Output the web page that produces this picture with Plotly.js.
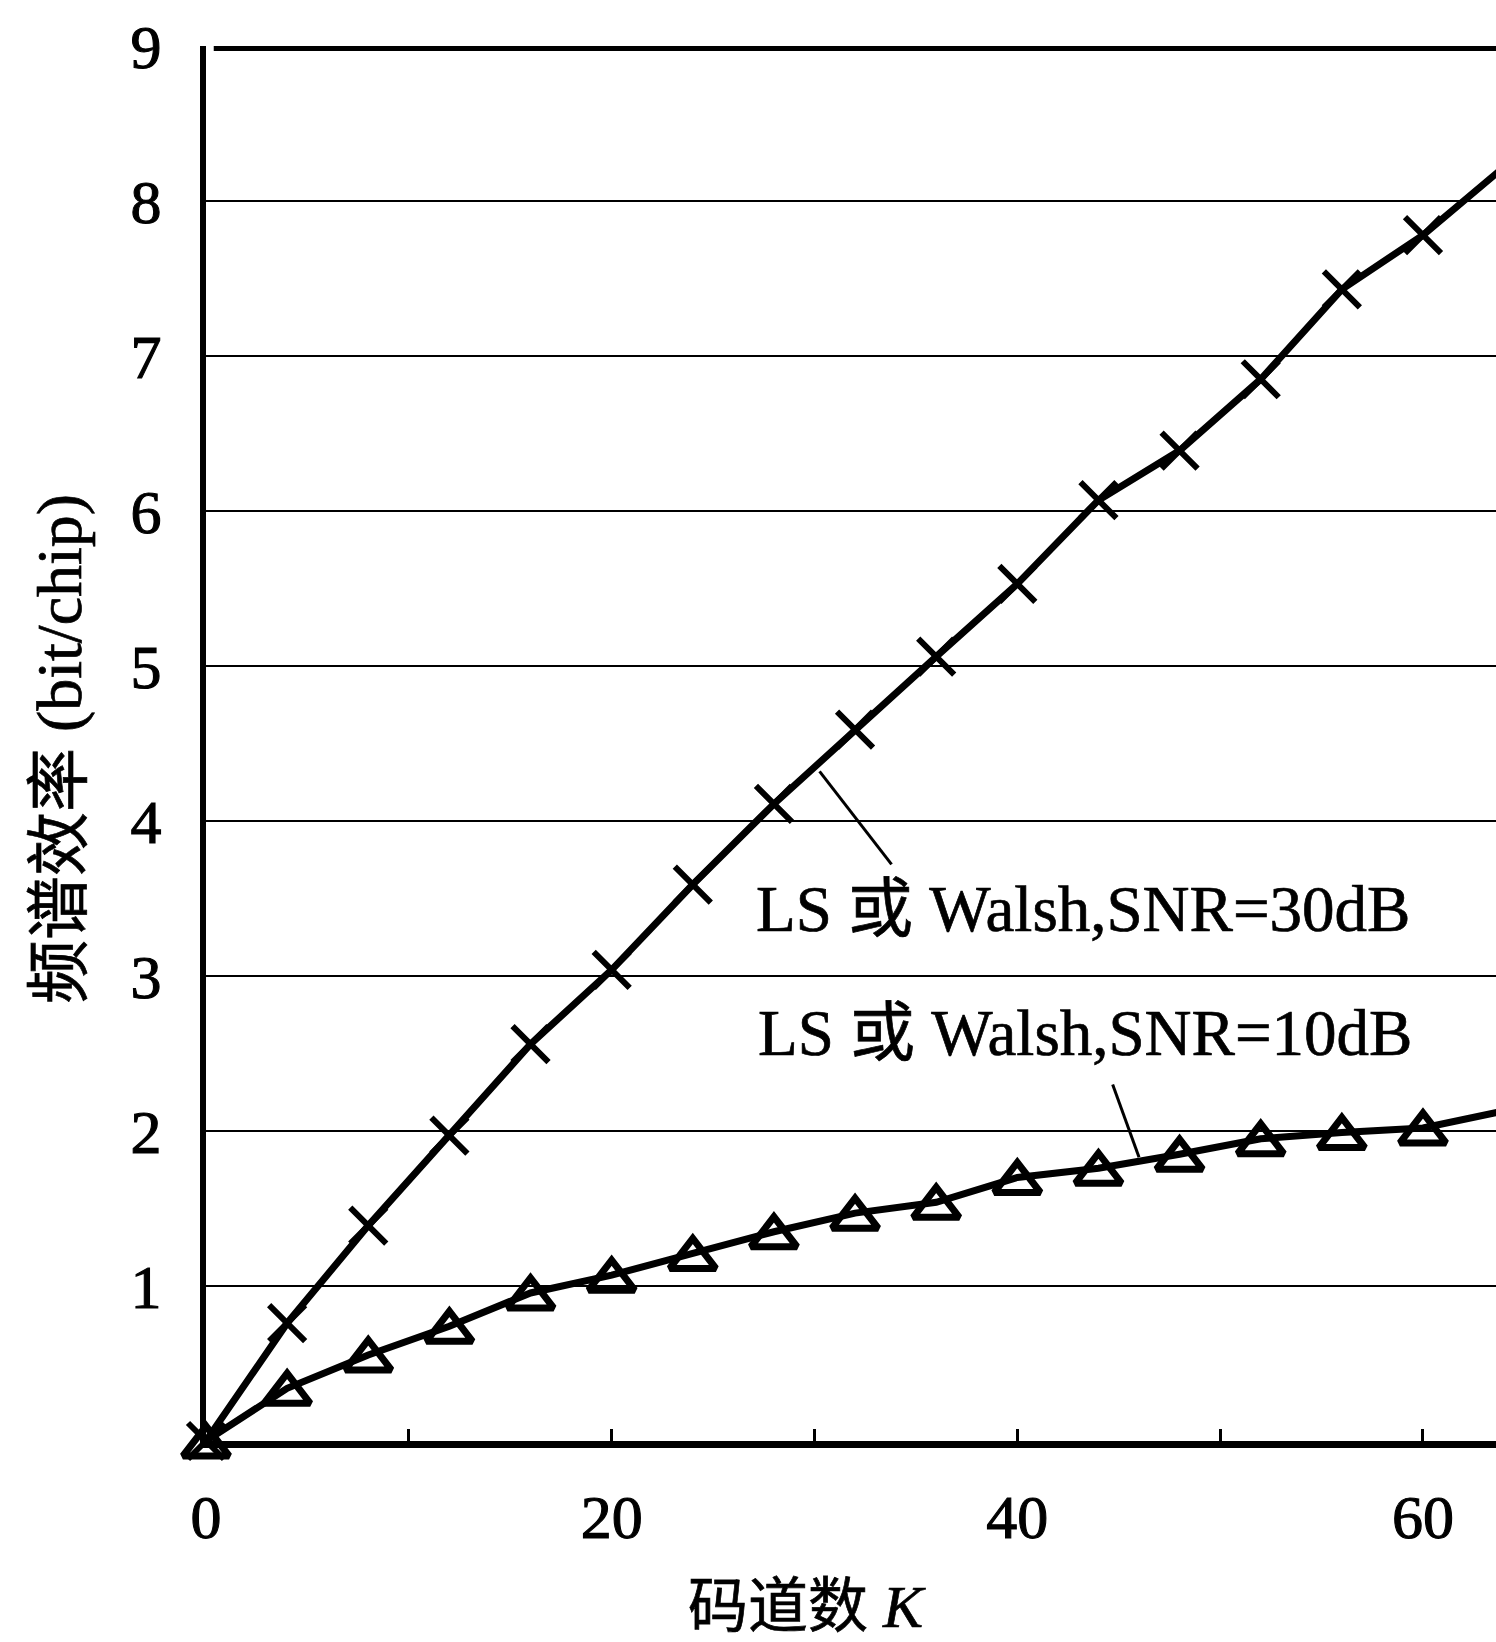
<!DOCTYPE html>
<html>
<head>
<meta charset="utf-8">
<script src="https://cdn.plot.ly/plotly-3.0.1.min.js"></script>
<style>
  html, body { margin: 0; padding: 0; background: #ffffff; }
  #chart { width: 1496px; height: 1642px; }
  #chart .xtick text, #chart .ytick text { stroke: #000000; stroke-width: 1.1px; }
  #chart .annotation-text { stroke: #000000; stroke-width: 0.7px; }
</style>
</head>
<body>
<div id="chart"></div>
<script>
// ---- data ----
const codeChannels = [0, 4, 8, 12, 16, 20, 24, 28, 32, 36, 40, 44, 48, 52, 56, 60, 64];
const eff30dB = [0, 0.76, 1.39, 1.97, 2.56, 3.04, 3.59, 4.11, 4.59, 5.06, 5.53, 6.07, 6.39, 6.85, 7.43, 7.78, 8.22];
const eff10dB = [0, 0.34, 0.555, 0.74, 0.955, 1.07, 1.21, 1.35, 1.47, 1.54, 1.70, 1.76, 1.85, 1.95, 1.99, 2.02, 2.13];
const xTickVals = [0, 10, 20, 30, 40, 50, 60];
const xTickText = ['0', '', '20', '', '40', '', '60'];
const yTickVals = [1, 2, 3, 4, 5, 6, 7, 8, 9];
const yTickText = ['1', '2', '3', '4', '5', '6', '7', '8', '9'];
const label30 = 'LS 或 Walsh,SNR=30dB';
const label10 = 'LS 或 Walsh,SNR=10dB';
const xTitle = '码道数 <i>K</i>';
const yTitle = '频谱效率 (bit/chip)';

const FONT = '"Liberation Serif", "Times New Roman", "Noto Sans CJK SC", serif';

const traces = [
  {
    x: codeChannels, y: eff30dB, type: 'scatter', mode: 'lines+markers',
    name: label30, cliponaxis: false,
    line: { color: '#000000', width: 7 },
    marker: { symbol: 'x-thin-open', size: 36, color: '#000000', line: { color: '#000000', width: 6 } }
  },
  {
    x: codeChannels, y: eff10dB, type: 'scatter', mode: 'lines+markers',
    name: label10, cliponaxis: false,
    line: { color: '#000000', width: 7 },
    marker: { symbol: 'triangle-up-open', angle: 0, standoff: 5, size: 40, color: '#000000',
              line: { color: '#000000', width: 7 } }
  }
];

const layout = {
  width: 1496, height: 1642,
  margin: { l: 206, r: 0, t: 46, b: 201, pad: 0 },
  paper_bgcolor: '#ffffff', plot_bgcolor: '#ffffff',
  showlegend: false,
  font: { family: FONT, color: '#000000' },
  xaxis: {
    range: [0, 63.6], autorange: false,
    tickmode: 'array', tickvals: xTickVals, ticktext: xTickText,
    ticks: 'inside', ticklen: 12, tickwidth: 3, tickcolor: '#000000',
    ticklabelstandoff: 16,
    tickfont: { family: FONT, size: 62, color: '#000000' },
    showgrid: false, zeroline: false,
    showline: true, linecolor: '#000000', linewidth: 7
  },
  yaxis: {
    range: [0, 9], autorange: false,
    tickmode: 'array', tickvals: yTickVals, ticktext: yTickText,
    ticks: '', ticklabelstandoff: 26,
    tickfont: { family: FONT, size: 62, color: '#000000' },
    showgrid: true, gridcolor: '#000000', gridwidth: 2.5,
    zeroline: false,
    showline: true, linecolor: '#000000', linewidth: 6
  },
  shapes: [
    { type: 'line', xref: 'paper', yref: 'y', x0: 0.006, x1: 1, y0: 9, y1: 9,
      line: { color: '#000000', width: 10 } },
    { type: 'line', xref: 'x', yref: 'y', x0: 30.25, y0: 4.32, x1: 33.8, y1: 3.72,
      line: { color: '#000000', width: 3 } },
    { type: 'line', xref: 'x', yref: 'y', x0: 44.7, y0: 2.30, x1: 46.0, y1: 1.83,
      line: { color: '#000000', width: 3 } }
  ],
  annotations: [
    { text: label30, xref: 'x', yref: 'y', x: 27.0, y: 3.43, xanchor: 'left', yanchor: 'middle',
      showarrow: false, font: { family: FONT, size: 65, color: '#000000' } },
    { text: label10, xref: 'x', yref: 'y', x: 27.1, y: 2.63, xanchor: 'left', yanchor: 'middle',
      showarrow: false, font: { family: FONT, size: 65, color: '#000000' } },
    { text: xTitle, xref: 'paper', yref: 'paper', x: 0.466, y: -0.119, xanchor: 'center', yanchor: 'middle',
      showarrow: false, font: { family: FONT, size: 60, color: '#000000' } },
    { text: yTitle, xref: 'paper', yref: 'paper', x: -0.114, y: 0.496, xanchor: 'center', yanchor: 'middle',
      textangle: -90, showarrow: false, font: { family: FONT, size: 64, color: '#000000' } }
  ]
};

Plotly.newPlot('chart', traces, layout, { displayModeBar: false, staticPlot: true });
</script>
</body>
</html>
